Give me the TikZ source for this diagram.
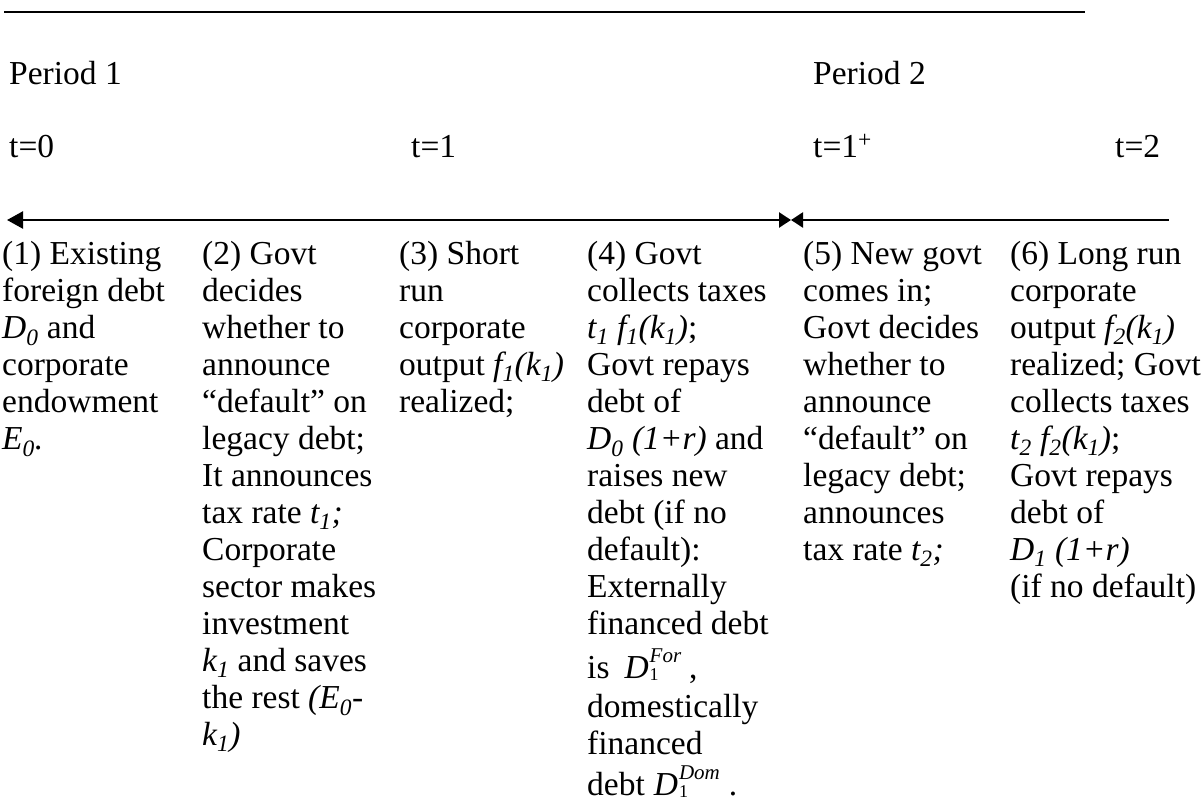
\documentclass[tikz,border=0pt]{standalone}
\usepackage{fontspec}
\setmainfont{Liberation Serif}
\usetikzlibrary{arrows.meta}
\newcommand\Dsup[1]{\textit{D}\kern1pt\makebox[0pt][l]{\raisebox{-2pt}{\fontsize{18}{18}\selectfont 1}}\raisebox{16pt}{\fontsize{21}{21}\selectfont\itshape #1}}
\begin{document}
\begin{tikzpicture}[x=1pt,y=-1pt,
  lbl/.style={anchor=base west,inner sep=0pt,font=\fontsize{33.5}{37}\selectfont},
  colbox/.style={anchor=base west,inner sep=0pt,font=\fontsize{33.5}{37}\selectfont},
  axis/.style={line width=2.4pt}]
\useasboundingbox (0,0) rectangle (1201,806);
\fill[white] (0,0) rectangle (1201,806);
% top rule
\coordinate (r1) at (4,12);
\coordinate (r2) at (1085,12);
\draw[line width=2pt] (r1) -- (r2);
% headers
\node[lbl] (p1) at (9,84) {Period 1};
\node[lbl] (p2) at (813,84) {Period 2};
\node[lbl] (t0) at (9,157) {t=0};
\node[lbl] (t1) at (411,157) {t=1};
\node[lbl] (t1p) at (813,157) {t=1\textsuperscript{+}};
\node[lbl] (t2) at (1115,157) {t=2};
% time axis
\coordinate (aL) at (7,220);
\coordinate (aM) at (791,220);
\coordinate (aR) at (1169,220);
\draw[axis,{Triangle[length=16pt,width=17pt]}-{Triangle[length=12pt,width=15pt]}] (aL) -- (aM);
\draw[axis,{Triangle[length=12pt,width=15pt]}-] (aM) -- (aR);
% columns
\node[colbox] (c1) at (2,264) {\begin{tabular}[t]{@{}l@{}}
(1) Existing\\
foreign debt\\
\textit{D\textsubscript{0}} and\\
corporate\\
endowment\\
\textit{E\textsubscript{0}.}
\end{tabular}};
\node[colbox] (c2) at (202,264) {\begin{tabular}[t]{@{}l@{}}
(2) Govt\\
decides\\
whether to\\
announce\\
“default” on\\
legacy debt;\\
It announces\\
tax rate \textit{t\textsubscript{1};}\\
Corporate\\
sector makes\\
investment\\
\textit{k\textsubscript{1}} and saves\\
the rest \textit{(E\textsubscript{0}-}\\
\textit{k\textsubscript{1})}
\end{tabular}};
\node[colbox] (c3) at (399,264) {\begin{tabular}[t]{@{}l@{}}
(3) Short\\
run\\
corporate\\
output \textit{f\textsubscript{1}(k\textsubscript{1})}\\
realized;
\end{tabular}};
\node[colbox] (c4) at (587,264) {\begin{tabular}[t]{@{}l@{}}
(4) Govt\\
collects taxes\\
\textit{t\textsubscript{1} f\textsubscript{1}(k\textsubscript{1})};\\
Govt repays\\
debt of\\
\textit{D\textsubscript{0} (1+r)} and\\
raises new\\
debt (if no\\
default):\\
Externally\\
financed debt\\[4pt]
is\hspace{15pt}\Dsup{For}\hspace{8pt},\\[2pt]
domestically\\
financed\\
debt\hspace{9pt}\Dsup{Dom}\hspace{9pt}.
\end{tabular}};
\node[colbox] (c5) at (803,264) {\begin{tabular}[t]{@{}l@{}}
(5) New govt\\
comes in;\\
Govt decides\\
whether to\\
announce\\
“default” on\\
legacy debt;\\
announces\\
tax rate \textit{t\textsubscript{2};}
\end{tabular}};
\node[colbox] (c6) at (1010,264) {\begin{tabular}[t]{@{}l@{}}
(6) Long run\\
corporate\\
output \textit{f\textsubscript{2}(k\textsubscript{1})}\\
realized; Govt\\
collects taxes\\
\textit{t\textsubscript{2} f\textsubscript{2}(k\textsubscript{1})};\\
Govt repays\\
debt of\\
\textit{D\textsubscript{1} (1+r)}\\
(if no default)
\end{tabular}};
\end{tikzpicture}
\end{document}
